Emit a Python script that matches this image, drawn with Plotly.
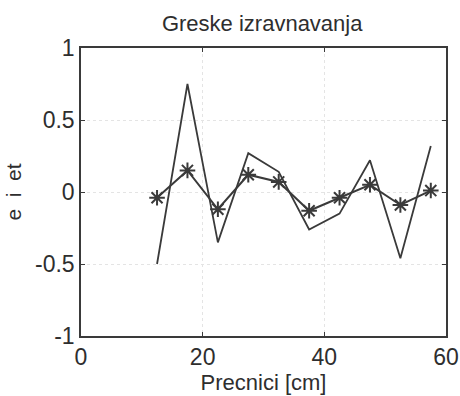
import plotly.graph_objects as go

x_vals = [12.5, 17.5, 22.5, 27.5, 32.5, 37.5, 42.5, 47.5, 52.5, 57.5]
e_vals = [-0.50, 0.75, -0.35, 0.27, 0.14, -0.26, -0.15, 0.22, -0.46, 0.32]
et_vals = [-0.04, 0.15, -0.12, 0.12, 0.07, -0.13, -0.04, 0.05, -0.09, 0.01]
x_ticks = [0, 20, 40, 60]
y_ticks = [-1, -0.5, 0, 0.5, 1]
y_tick_text = ["-1", "-0.5", "0", "0.5", "1"]

col = "#3a3a3a"
fig = go.Figure()
fig.add_trace(go.Scatter(x=x_vals, y=e_vals, mode="lines",
                         line=dict(color=col, width=1.8), showlegend=False))
fig.add_trace(go.Scatter(x=x_vals, y=et_vals, mode="lines+markers",
                         line=dict(color=col, width=2),
                         marker=dict(symbol="asterisk-open", size=13,
                                     line=dict(color=col, width=2)),
                         showlegend=False))

font = dict(family="Liberation Sans, Arial, sans-serif", color="#2e2e2e", size=23)
fig.update_layout(
    width=460, height=396,
    margin=dict(l=81, r=14, t=48, b=60, autoexpand=False),
    paper_bgcolor="white", plot_bgcolor="white",
    font=font,
    title=dict(text="Greske izravnavanja", x=0.57, xanchor="center",
               y=0.942, yanchor="middle", font=dict(size=22)),
)
fig.update_xaxes(range=[0, 60], tickvals=x_ticks, showgrid=True,
                 gridcolor="#e4e4e4", griddash="dot", gridwidth=1,
                 zeroline=False, showline=True, linecolor=col, linewidth=1.5,
                 mirror="ticks", ticks="inside", ticklen=4, tickcolor=col,
                 tickfont=dict(size=23), automargin=False,
                 title=dict(text="Precnici [cm]", standoff=0, font=dict(size=22)))
fig.update_yaxes(range=[-1, 1], tickvals=y_ticks, ticktext=y_tick_text,
                 showgrid=True, gridcolor="#e4e4e4", griddash="dot", gridwidth=1,
                 zeroline=False, showline=True, linecolor=col, linewidth=1.5,
                 mirror="ticks", ticks="inside", ticklen=4, tickcolor=col,
                 tickfont=dict(size=23), automargin=False,
                 title=dict(text="e  i  et", standoff=8, font=dict(size=21)))
fig.write_html("out.html")
